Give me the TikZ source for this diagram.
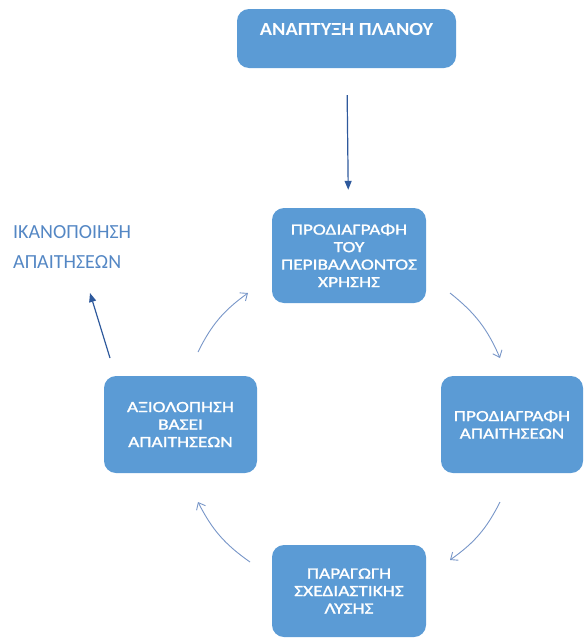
\documentclass[tikz,border=0pt]{standalone}
\usepackage{fontspec}
\setmainfont{Carlito}
\newfontfamily\stagefont{Carlito}[FakeStretch=1.25, FakeBold=1.2]
\newfontfamily\planfont{Carlito}[FakeStretch=1.1]
\usepackage{xcolor}
\usepackage{tikz}
\usetikzlibrary{arrows.meta, calc, positioning}

\definecolor{boxblue}{RGB}{91,155,213}
\definecolor{darkarrow}{RGB}{46,89,156}
\definecolor{lightarrow}{RGB}{120,150,200}
\definecolor{goalblue}{RGB}{84,135,196}

\tikzset{
  stage/.style={fill=boxblue, rounded corners=12pt, text=white, align=center,
    minimum width=154pt, minimum height=95pt, inner sep=2pt,
    font=\stagefont\fontsize{15.5}{17.5}\selectfont},
  cyclearrow/.style={draw=lightarrow, line width=0.9pt,
    -{Straight Barb[length=6pt,width=10pt]}},
  mainarrow/.style={draw=darkarrow, line width=1.2pt,
    -{Triangle[length=9pt,width=7pt]}}
}

\begin{document}
\begin{tikzpicture}[x=1pt, y=-1pt]
    \useasboundingbox (0,0) rectangle (584,640);

    % --- the five boxes
    \node[stage, minimum width=219pt, minimum height=59pt, text height=12pt, text depth=19pt,
      font=\planfont\bfseries\fontsize{18.5}{20}\selectfont] (plan) at (346.5,38.5) {ΑΝΑΠΤΥΞΗ ΠΛΑΝΟΥ};
    \node[stage] (context) at (349,255.5) {ΠΡΟΔΙΑΓΡΑΦΗ\\ΤΟΥ\\ΠΕΡΙΒΑΛΛΟΝΤΟΣ\\ΧΡΗΣΗΣ};
    \node[stage, minimum width=142pt, minimum height=97pt] (require) at (512,424.5) {ΠΡΟΔΙΑΓΡΑΦΗ\\ΑΠΑΙΤΗΣΕΩΝ};
    \node[stage, minimum height=92pt] (design) at (349,591) {ΠΑΡΑΓΩΓΗ\\ΣΧΕΔΙΑΣΤΙΚΗΣ\\ΛΥΣΗΣ};
    \node[stage, minimum width=153pt, minimum height=97pt] (evaluate) at (180.5,424.5) {ΑΞΙΟΛΟΠΗΣΗ\\ΒΑΣΕΙ\\ΑΠΑΙΤΗΣΕΩΝ};

    % --- the goal text on the left
    \node[anchor=west, inner sep=0pt, align=left, text=goalblue,
      font=\fontsize{20}{30}\selectfont] (goal) at (13,247) {ΙΚΑΝΟΠΟΙΗΣΗ\\ΑΠΑΙΤΗΣΕΩΝ};

    % --- straight arrows
    \draw[mainarrow, shorten <=27pt, shorten >=18pt] (plan) -- (context);
    \coordinate (exitA) at (110,358);
    \coordinate (exitB) at (90,293);
    \draw[mainarrow] (exitA) -- (exitB);

    % --- ends of the curved arrows round the cycle
    \coordinate (tlA) at (198,352);
    \coordinate (tlB) at (248,293);
    \coordinate (trA) at (450,293);
    \coordinate (trB) at (500,358);
    \coordinate (brA) at (500,502);
    \coordinate (brB) at (450,560);
    \coordinate (blA) at (250,562);
    \coordinate (blB) at (198,502);

    \draw[cyclearrow] (tlA) to[bend left=14] (tlB);
    \draw[cyclearrow] (trA) to[bend left=14] (trB);
    \draw[cyclearrow] (brA) to[bend left=14] (brB);
    \draw[cyclearrow] (blA) to[bend left=14] (blB);

\end{tikzpicture}
\end{document}
